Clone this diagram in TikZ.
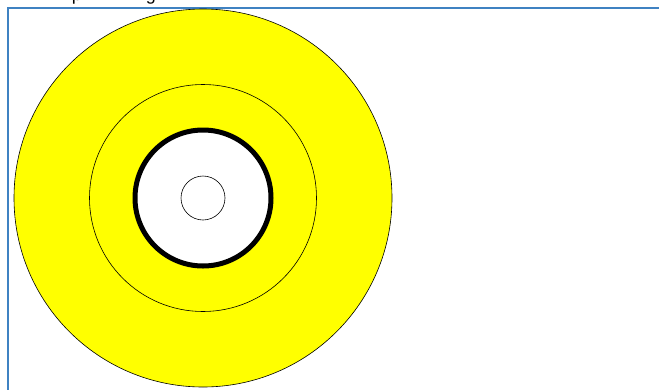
\documentclass[tikz,border=0pt]{standalone}
\usepackage{fontspec}
\setmainfont{Liberation Sans}
\definecolor{framebl}{HTML}{3F82C2}
\definecolor{ringyel}{RGB}{255,255,0}
\begin{document}
\begin{tikzpicture}[x=1pt,y=-1pt,
  ring/.style={circle,draw=black,line width=0.6pt,inner sep=0pt,minimum size=#1},
  frag/.style={font=\fontsize{18}{20}\selectfont,anchor=base,inner sep=0pt}]
\useasboundingbox (0,0) rectangle (659,389);
\begin{scope}
\clip (0,0) rectangle (659,389);
\node[frag] (p) at (77,0) {p};
\node[frag] (g) at (151,0) {g};
\draw[framebl,line width=2.5pt] (8,400) -- (8,8) -- (670,8);
\end{scope}
\coordinate (c) at (203,198);
\node[ring=378pt,fill=ringyel] (outer) at (c) {};
\node[ring=227pt] (middle) at (c) {};
\node[circle,draw=black,fill=white,line width=5pt,inner sep=0pt,minimum size=136pt] (thick) at (c) {};
\node[ring=44pt] (inner) at (c) {};
\end{tikzpicture}
\end{document}
